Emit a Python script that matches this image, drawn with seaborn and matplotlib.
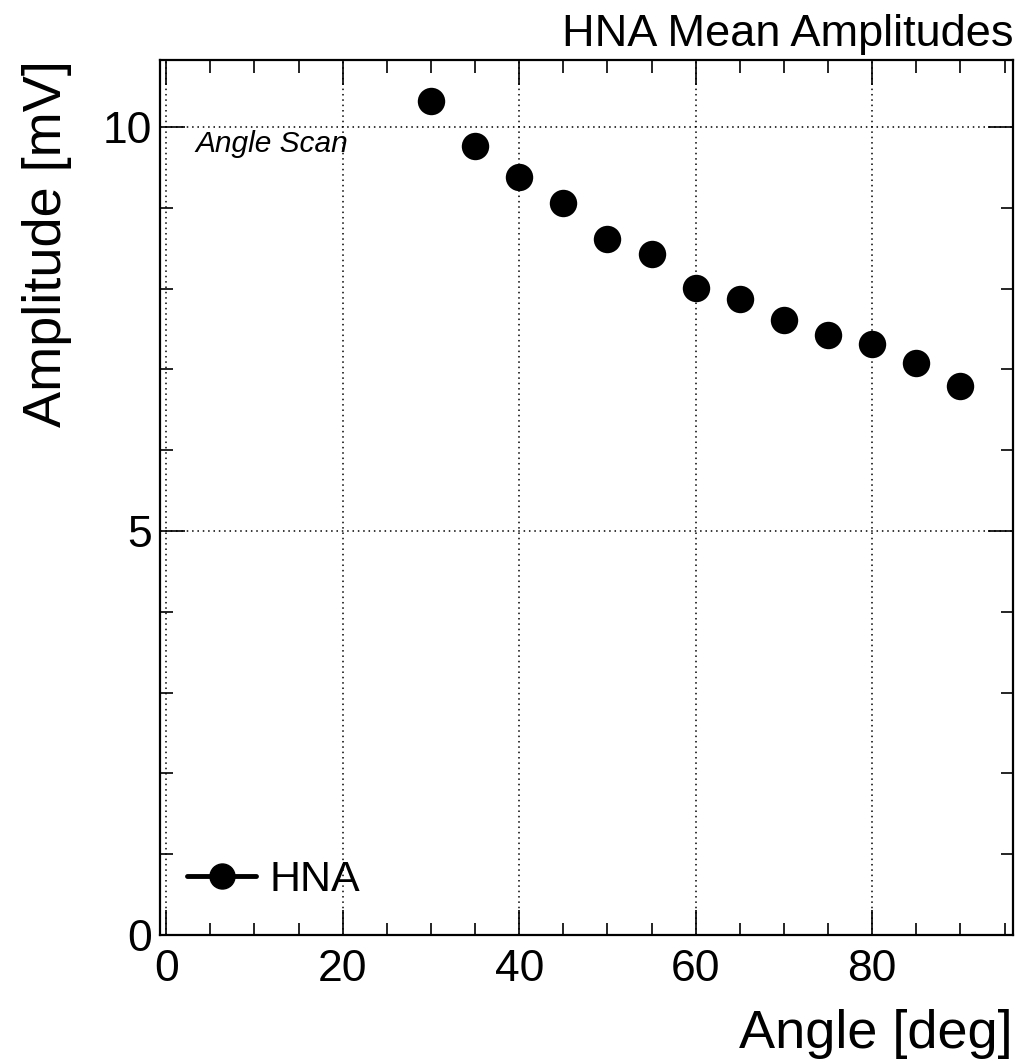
import matplotlib
matplotlib.use("Agg")
import matplotlib.pyplot as plt
from matplotlib.lines import Line2D
from matplotlib.ticker import MultipleLocator
import seaborn as sns
import pandas as pd

# Mean HNA amplitude per incidence angle
angles = [30, 35, 40, 45, 50, 55, 60, 65, 70, 75, 80, 85, 90]
amplitudes = [10.32, 9.76, 9.38, 9.06, 8.62, 8.43, 8.01, 7.87, 7.61, 7.43, 7.32, 7.08, 6.79]
series_name = "HNA"

df = pd.DataFrame({"angle": angles, "amplitude": amplitudes})

sns.set_theme(style="white")
plt.rcParams["font.family"] = ["Liberation Sans", "DejaVu Sans"]
plt.rcParams.update({
    "text.color": "black",
    "axes.labelcolor": "black",
    "xtick.color": "black",
    "ytick.color": "black",
})

fig = plt.figure(figsize=(10.22, 10.63), dpi=100)
ax = fig.add_axes([160 / 1022, 1 - 935 / 1063, (1013 - 160) / 1022, (935 - 60) / 1063])

sns.scatterplot(data=df, x="angle", y="amplitude", ax=ax, color="black",
                s=390, edgecolor="black", linewidth=0, legend=False, zorder=3)

ax.set_xlim(-0.7, 95.95)
ax.set_ylim(0, 10.83)

ax.xaxis.set_major_locator(MultipleLocator(20))
ax.xaxis.set_minor_locator(MultipleLocator(5))
ax.yaxis.set_major_locator(MultipleLocator(5))
ax.yaxis.set_minor_locator(MultipleLocator(1))

ax.grid(True, which="major", color="black", linestyle=(0, (1, 2.5)), linewidth=1.1)

for s in ax.spines.values():
    s.set_color("black")
    s.set_linewidth(1.6)

ax.tick_params(which="both", direction="in", bottom=True, left=True, top=True,
               right=True, colors="black", width=1.2)
ax.tick_params(which="major", length=18, labelsize=32)
ax.tick_params(which="minor", length=9)
ax.tick_params(axis="x", which="major", pad=10)
ax.tick_params(axis="y", which="major", pad=6)

ax.set_xlabel("Angle [deg]", fontsize=39, loc="right", labelpad=14)
ax.set_ylabel("Amplitude [mV]", fontsize=39, loc="top", labelpad=22)

fig.text(1013 / 1022, 1 - 46 / 1063, "HNA Mean Amplitudes", fontsize=32.5,
         ha="right", va="baseline")

ax.text(195 / 1022, 1 - 152 / 1063, "Angle Scan", fontsize=21.5, style="italic",
        ha="left", va="baseline", transform=fig.transFigure)

handle = Line2D([], [], color="black", linewidth=3.5, marker="o", markersize=18)
ax.legend([handle], [series_name], loc="lower left", bbox_to_anchor=(0.012, 0.02),
          frameon=False, fontsize=31, handlelength=1.6, handletextpad=0.3,
          borderaxespad=0)

fig.savefig("out.png", dpi=100)
